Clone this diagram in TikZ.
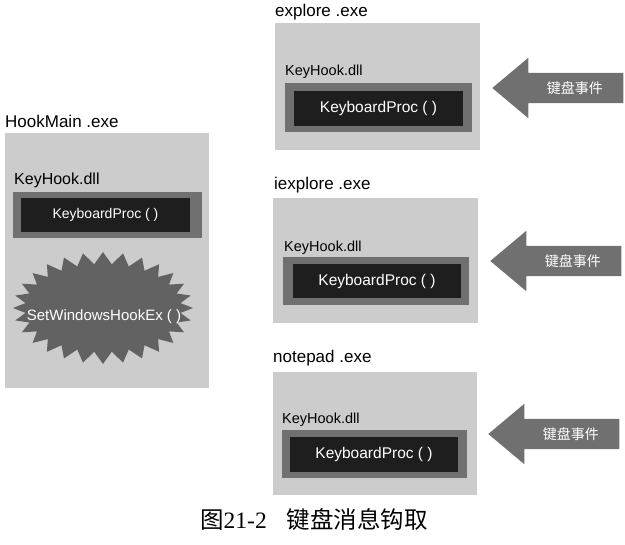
\documentclass[tikz,border=0pt]{standalone}
\usepackage{fontspec}
\setmainfont{Liberation Sans}
\newfontfamily\cjk{Noto Sans CJK SC}
\newfontfamily\capserif{Liberation Serif}
\usepackage{tikz}
\usetikzlibrary{shapes.symbols,shapes.arrows,positioning}

\definecolor{procgray}{RGB}{204,204,204}
\definecolor{dllgray}{RGB}{112,112,112}
\definecolor{procblack}{RGB}{30,30,30}
\definecolor{hookgray}{RGB}{98,98,98}
\definecolor{eventgray}{RGB}{112,112,112}

\tikzset{
  procbox/.style={rectangle, fill=procgray, anchor=north west, inner sep=0pt},
  dllbox/.style={rectangle, fill=dllgray, anchor=north west, inner sep=0pt},
  funcbox/.style={rectangle, fill=procblack, text=white, inner sep=0pt},
  exelabel/.style={anchor=west, inner sep=0pt, font=\fontsize{17}{19}\selectfont},
  dlllabel/.style={anchor=west, inner sep=0pt, font=\fontsize{14.5}{16}\selectfont},
  evtarrow/.style={single arrow, shape border rotate=180, fill=eventgray, text=white,
    inner xsep=4pt, inner ysep=8.5pt, single arrow head extend=15pt, minimum height=131pt,
    single arrow tip angle=80, anchor=tip, font=\cjk\fontsize{14}{16}\selectfont,
    execute at begin node=\hspace*{16pt}}
}

\begin{document}
\begin{tikzpicture}[x=1pt, y=-1pt]
    \useasboundingbox (0,0) rectangle (625,545);

    % HookMain.exe
    \node (hookmain) [procbox, minimum width=204pt, minimum height=255pt] at (5,133) {};
    \node (hookmainname) [exelabel] at (5,121) {HookMain .exe};
    \node (hookdllname) [dlllabel, font=\fontsize{16}{18}\selectfont] at (14,180) {KeyHook.dll};
    \node (hookdll) [dllbox, minimum width=189pt, minimum height=46pt] at (13,192) {};
    \node (hookproc) [funcbox, minimum width=169pt, minimum height=34pt, font=\fontsize{14}{16}\selectfont] at (105.5,215) {KeyboardProc ( )};
    \node (sethook) [starburst, fill=hookgray, starburst points=28, starburst point height=12pt,
      random starburst=0, minimum width=180pt, minimum height=112pt, inner sep=0pt] at (103,308) {};
    \node (sethookname) [text=white, inner sep=0pt, font=\fontsize{15}{17}\selectfont] at (104,317) {SetWindowsHookEx ( )};

    % explore.exe
    \node (explore) [procbox, minimum width=205pt, minimum height=127pt] at (275,23) {};
    \node (explorename) [exelabel] at (275,12) {explore .exe};
    \node (exploredllname) [dlllabel] at (285,72) {KeyHook.dll};
    \node (exploredll) [dllbox, minimum width=187pt, minimum height=49pt] at (285,83) {};
    \node (exploreproc) [funcbox, minimum width=169pt, minimum height=35pt, font=\fontsize{15.5}{17}\selectfont] at (378.5,108.5) {KeyboardProc ( )};
    \node (exploreevt) [evtarrow] at (492,88) {键盘事件};

    % iexplore.exe
    \node (iexplore) [procbox, minimum width=205pt, minimum height=125pt] at (273,198) {};
    \node (iexplorename) [exelabel] at (274,185) {iexplore .exe};
    \node (iexploredllname) [dlllabel] at (284,248) {KeyHook.dll};
    \node (iexploredll) [dllbox, minimum width=186pt, minimum height=48pt] at (283,257) {};
    \node (iexploreproc) [funcbox, minimum width=168pt, minimum height=34pt, font=\fontsize{15.5}{17}\selectfont] at (377,281) {KeyboardProc ( )};
    \node (iexploreevt) [evtarrow] at (490,261) {键盘事件};

    % notepad.exe
    \node (notepad) [procbox, minimum width=204pt, minimum height=123pt] at (273,372) {};
    \node (notepadname) [exelabel] at (273,358) {notepad .exe};
    \node (notepaddllname) [dlllabel] at (282,420) {KeyHook.dll};
    \node (notepaddll) [dllbox, minimum width=185pt, minimum height=48pt] at (282,430) {};
    \node (notepadproc) [funcbox, minimum width=168pt, minimum height=35pt, font=\fontsize{15.5}{17}\selectfont] at (374,454.5) {KeyboardProc ( )};
    \node (notepadevt) [evtarrow] at (488,434) {键盘事件};

    % caption
    \node (caption) [anchor=west, inner sep=0pt, font=\fontsize{23.5}{25}\selectfont] at (200,520)
      {{\cjk 图}{\capserif 21-2}\hspace{20pt}{\cjk 键盘消息钩取}};
\end{tikzpicture}
\end{document}
